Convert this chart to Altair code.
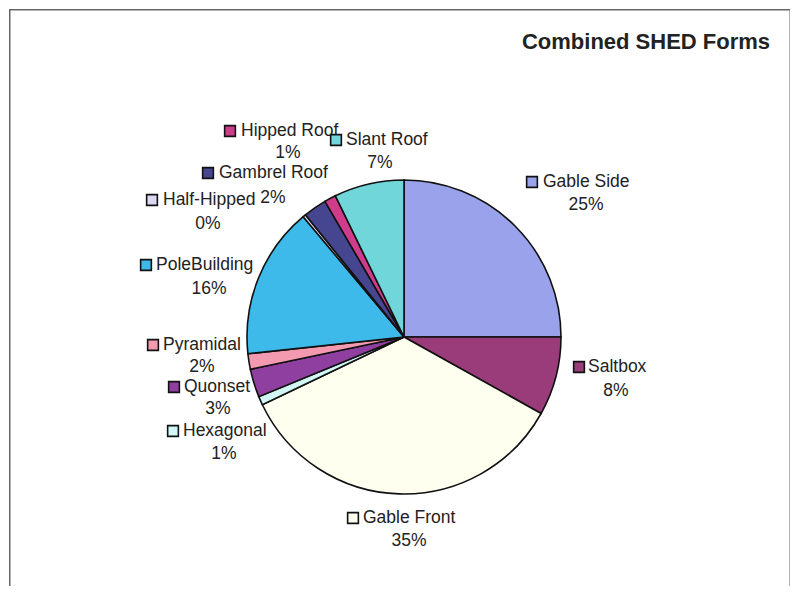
import altair as alt
import pandas as pd

# ---- data ----
categories = ["Gable Side", "Saltbox", "Gable Front", "Hexagonal", "Quonset",
              "Pyramidal", "PoleBuilding", "Half-Hipped", "Gambrel Roof",
              "Hipped Roof", "Slant Roof"]
shares = [25.0, 8.1, 34.8, 0.9, 2.9, 1.6, 15.6, 0.3, 2.4, 1.2, 7.2]
colors = ["#9ba2ec", "#9a3b7a", "#fffff0", "#d2f6f6", "#8f3f9f",
          "#f49ab0", "#3db9ea", "#dcd8f2", "#464690", "#d03c8c", "#70d6d9"]

# ---- layout (page pixels): key square centre x, label text start x, label y, percent centre x, y ----
label_layout = {
    "Gable Side":   (531, 542, 181, 585, 204),
    "Saltbox":      (578, 587, 366, 615, 390),
    "Gable Front":  (352, 362, 517, 408, 540),
    "Hexagonal":    (172, 182, 430, 223, 453),
    "Quonset":      (173, 183, 386, 217, 408),
    "Pyramidal":    (152, 162, 344, 201, 366),
    "PoleBuilding": (145, 155, 264, 208, 288),
    "Half-Hipped":  (151, 162, 199, 207, 223),
    "Gambrel Roof": (207, 218, 172, 272, 197),
    "Hipped Roof":  (229, 240, 130, 287, 152),
    "Slant Roof":   (335, 345, 139, 379, 162),
}
M = 8  # page margin
W, H = 782, 578
CX, CY, R = 403 - M, 336 - M, 157
FONT = "Liberation Sans"

pie_df = pd.DataFrame({"category": categories, "share": shares,
                       "order": list(range(len(categories)))})

lab_rows = []
for i, c in enumerate(categories):
    sx, tx, ty, px, py = label_layout[c]
    lab_rows.append({"category": c, "order": i, "pct": f"{round(shares[i])}%",
                     "sx": sx - M, "tx": tx - M, "ty": ty - M,
                     "px": px - M, "py": py - M})
lab_df = pd.DataFrame(lab_rows)

color_scale = alt.Scale(domain=categories, range=colors)

pie = alt.Chart(pie_df).mark_arc(
    outerRadius=R, stroke="#111111", strokeWidth=1.6
).encode(
    theta=alt.Theta("share:Q", stack=True),
    order=alt.Order("order:Q"),
    color=alt.Color("category:N", scale=color_scale, legend=None),
    x=alt.value(CX), y=alt.value(CY),
)

names = alt.Chart(lab_df).mark_text(
    align="left", baseline="middle", font=FONT, fontSize=17.5, color="#222222"
).encode(
    x=alt.X("tx:Q", scale=None), y=alt.Y("ty:Q", scale=None),
    text="category:N", order=alt.Order("order:Q"),
)

keys = alt.Chart(lab_df).mark_point(
    shape="square", size=115, filled=True, stroke="#111111", strokeWidth=1.6, opacity=1
).encode(
    x=alt.X("sx:Q", scale=None), y=alt.Y("ty:Q", scale=None),
    fill=alt.Fill("category:N", scale=color_scale, legend=None),
    order=alt.Order("order:Q"),
)

pcts = alt.Chart(lab_df).mark_text(
    align="center", baseline="middle", font=FONT, fontSize=17.5, color="#222222"
).encode(
    x=alt.X("px:Q", scale=None), y=alt.Y("py:Q", scale=None),
    text="pct:N",
)

title = alt.Chart(pd.DataFrame({"t": ["Combined SHED Forms"]})).mark_text(
    align="center", baseline="middle", font=FONT, fontSize=22,
    fontWeight="bold", color="#222222"
).encode(
    x=alt.value(645 - M), y=alt.value(41 - M), text="t:N",
)

# frame: left, top and right edges (the bottom edge is cut off in the reference)
frame_style = dict(color="#666666", strokeWidth=1.5)
frame = alt.layer(
    alt.Chart().mark_rule(**frame_style).encode(x=alt.value(0.75), y=alt.value(0), y2=alt.value(H)),
    alt.Chart().mark_rule(**frame_style).encode(x=alt.value(0), x2=alt.value(W), y=alt.value(0.75)),
    alt.Chart().mark_rule(**frame_style).encode(x=alt.value(W - 0.75), y=alt.value(0), y2=alt.value(H)),
)

chart = alt.layer(frame, pie, names, keys, pcts, title).properties(
    width=W, height=H,
    autosize=alt.AutoSizeParams(type="fit", contains="padding"),
    padding=0,
    background="white",
).configure_view(strokeWidth=0)

chart.save("out.html", embed_options={"renderer": "svg", "actions": False})
